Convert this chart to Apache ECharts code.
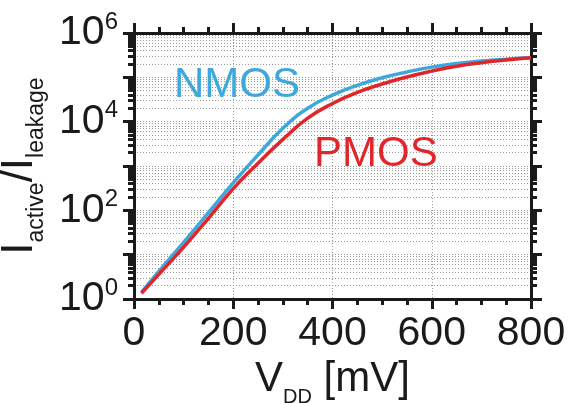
<!DOCTYPE html>
<html>
<head>
<meta charset="utf-8">
<script src="https://cdn.jsdelivr.net/npm/echarts@6/dist/echarts.min.js"></script>
<style>
  html, body { margin: 0; background: #fff; }
  #main { width: 570px; height: 403px; }
</style>
</head>
<body>
<div id="main"></div>
<script>
// supply voltage [mV]
const vdd = [15, 50, 100, 150, 200, 250, 300, 350, 400, 450, 500, 550, 600, 650, 700, 750, 800]
// Iactive / Ileakage
const nmos = [1.41, 4.2, 19, 89, 417, 1780, 7080, 20000, 39800, 66100, 97700, 132000, 170000, 204000, 234000, 257000, 275000]
const pmos = [1.35, 3.6, 14.8, 66, 309, 1150, 3980, 12000, 25700, 45700, 70800, 102000, 138000, 178000, 214000, 245000, 275000]

const decades = [1, 10, 100, 1e3, 1e4, 1e5, 1e6]
const minorSteps = [2, 3, 4, 5, 6, 7, 8, 9]
const yLabelValues = [1, 100, 1e4, 1e6]

const FONT = 'Liberation Sans, Arial, sans-serif'
const BLUE = '#3ea8dc'
const RED = '#e1262b'
const INK = '#1a1a1a'

const allTicks = []
decades.forEach((d, i) => {
  allTicks.push(d)
  if (i < decades.length - 1) minorSteps.forEach((m) => allTicks.push(d * m))
})

const chart = echarts.init(document.getElementById('main'))

function yAxisDef(position, ticks, len, labels, split) {
  return {
    type: 'log',
    logBase: 10,
    min: 1,
    max: 1e6,
    position: position,
    axisLine: { show: true, lineStyle: { color: INK, width: 3 } },
    axisTick: {
      show: true,
      inside: false,
      length: len,
      customValues: ticks,
      lineStyle: { color: INK, width: 3 },
    },
    minorTick: { show: false },
    splitLine: {
      show: split,
      lineStyle: { color: '#9a9a9a', width: 1, type: [1, 2] },
    },
    axisLabel: labels
      ? {
          show: true,
          customValues: yLabelValues,
          margin: 16,
          formatter: (v) => '{b|10}{s|' + Math.round(Math.log10(v)) + '}',
          rich: {
            b: { fontSize: 41, fontFamily: FONT, color: INK, lineHeight: 46 },
            s: { fontSize: 24, fontFamily: FONT, color: INK, lineHeight: 24, verticalAlign: 'top' },
          },
        }
      : { show: false },
  }
}

function xAxisDef(position, labels) {
  return {
    type: 'value',
    min: 0,
    max: 800,
    interval: 200,
    position: position,
    axisLine: { show: true, onZero: false, lineStyle: { color: INK, width: 3 } },
    axisTick: { show: true, length: 10, lineStyle: { color: INK, width: 3 } },
    minorTick: { show: true, splitNumber: 4, length: 6, lineStyle: { color: INK, width: 3 } },
    splitLine: {
      show: labels,
      lineStyle: { color: '#9a9a9a', width: 1, type: [1, 2] },
    },
    axisLabel: labels
      ? { show: true, margin: 14, fontSize: 41, fontFamily: FONT, color: INK }
      : { show: false },
  }
}

const xBottom = xAxisDef('bottom', true)
xBottom.name = '{v|V}{sub|DD}{v| [mV]}'
xBottom.nameLocation = 'middle'
xBottom.nameGap = 48
xBottom.nameTextStyle = {
  rich: {
    v: { fontSize: 42, fontFamily: FONT, color: INK, lineHeight: 56 },
    sub: { fontSize: 20, fontFamily: FONT, color: INK, lineHeight: 20, verticalAlign: 'bottom' },
  },
}

const yLeftMajor = yAxisDef('left', decades, 11, true, false)
yLeftMajor.name = '{m|I}{s|active}{m|/I}{s|leakage}'
yLeftMajor.nameLocation = 'middle'
yLeftMajor.nameGap = 77
yLeftMajor.nameTextStyle = {
  rich: {
    m: { fontSize: 44, fontFamily: FONT, color: INK, lineHeight: 56 },
    s: { fontSize: 23, fontFamily: FONT, color: INK, lineHeight: 23, verticalAlign: 'bottom' },
  },
}

const option = {
  backgroundColor: '#fff',
  animation: false,
  grid: { left: 134, right: 39, top: 33, bottom: 104, containLabel: false, outerBoundsMode: 'none' },
  xAxis: [xBottom, xAxisDef('top', false)],
  yAxis: [
    yAxisDef('left', allTicks, 6, false, true),
    yLeftMajor,
    yAxisDef('right', allTicks, 6, false, false),
    yAxisDef('right', decades, 11, false, false),
  ],
  graphic: [
    {
      type: 'text',
      x: 174,
      y: 85,
      style: { text: 'NMOS', font: '42px ' + FONT, fill: BLUE, align: 'left', verticalAlign: 'middle' },
      z: 100,
    },
    {
      type: 'text',
      x: 314,
      y: 154,
      style: { text: 'PMOS', font: '42px ' + FONT, fill: RED, align: 'left', verticalAlign: 'middle' },
      z: 100,
    },
  ],
  series: [
    {
      name: 'NMOS',
      type: 'line',
      xAxisIndex: 0,
      yAxisIndex: 0,
      smooth: true,
      showSymbol: false,
      lineStyle: { color: BLUE, width: 3.5 },
      data: vdd.map((v, i) => [v, nmos[i]]),
    },
    {
      name: 'PMOS',
      type: 'line',
      xAxisIndex: 0,
      yAxisIndex: 0,
      smooth: true,
      showSymbol: false,
      lineStyle: { color: RED, width: 3.5 },
      data: vdd.map((v, i) => [v, pmos[i]]),
    },
  ],
}

chart.setOption(option)
</script>
</body>
</html>
